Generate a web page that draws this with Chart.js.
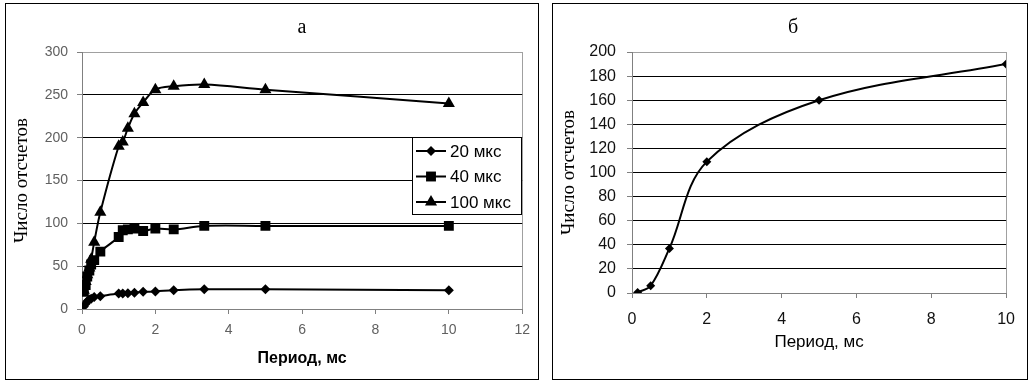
<!DOCTYPE html>
<html>
<head>
<meta charset="utf-8">
<script src="https://cdn.jsdelivr.net/npm/chart.js@4.4.1/dist/chart.umd.min.js"></script>
<style>
  body { margin: 0; background: #fff; width: 1034px; height: 385px; position: relative; overflow: hidden; }
  .panel { position: absolute; border: 1px solid #000; background: #fff; }
  #panel-a { left: 5px; top: 3px; width: 532px; height: 375px; }
  #panel-b { left: 552px; top: 3px; width: 474px; height: 375px; }
  canvas { display: block; }
</style>
</head>
<body>
<div class="panel" id="panel-a"><canvas id="chart-a" width="532" height="375"></canvas></div>
<div class="panel" id="panel-b"><canvas id="chart-b" width="474" height="375"></canvas></div>
<script>
// panel а: three pulse widths
const periodA = [0.05, 0.1, 0.143, 0.2, 0.25, 0.333, 0.5, 1, 1.111, 1.25, 1.429, 1.667, 2, 2.5, 3.333, 5, 10]
const counts20 = [3, 6, 9, 11, 12, 14, 15, 18, 18, 18.5, 19, 20, 20.5, 22, 23, 23, 22]
const counts40 = [20, 28, 38, 45, 52, 57, 67, 84, 92, 93, 94, 91, 94, 93, 97, 97, 97]
const counts100 = [22, 32, 40, 48, 58, 78, 113, 190, 195, 211, 228, 241, 256, 260, 262, 256, 240]
const seriesNames = ['20 мкс', '40 мкс', '100 мкс']

// panel б
const periodB = [0.15, 0.5, 1, 2, 5, 10]
const countsB = [0.5, 6, 37, 109, 160, 190]

const SANS = "'Liberation Sans', Arial, sans-serif"
const SERIF = "'Liberation Serif', 'Times New Roman', serif"

const toPoints = (xs, ys) => xs.map((x, i) => ({ x, y: ys[i] }))

const caption = {
  id: 'caption',
  afterDraw(chart, args, opts) {
    if (!opts.text) return
    const ctx = chart.ctx
    ctx.save()
    ctx.font = '20px ' + SERIF
    ctx.fillStyle = '#000'
    ctx.textAlign = 'center'
    ctx.textBaseline = 'alphabetic'
    ctx.fillText(opts.text, opts.x, opts.y)
    ctx.restore()
  }
}

const legendBox = {
  id: 'legendBox',
  afterDraw(chart, args, opts) {
    if (!opts.display) return
    const ctx = chart.ctx
    ctx.save()
    ctx.fillStyle = '#fff'
    ctx.fillRect(opts.x, opts.y, opts.w, opts.h)
    ctx.strokeStyle = '#000'
    ctx.lineWidth = 1
    ctx.strokeRect(opts.x + 0.5, opts.y + 0.5, opts.w, opts.h)
    chart.data.datasets.forEach((ds, i) => {
      const cy = opts.y + 14 + i * 25.5
      ctx.strokeStyle = '#000'
      ctx.lineWidth = 2
      ctx.beginPath()
      ctx.moveTo(opts.x + 4, cy)
      ctx.lineTo(opts.x + 34, cy)
      ctx.stroke()
      ctx.fillStyle = '#000'
      Chart.helpers.drawPoint(ctx, { pointStyle: ds.pointStyle, radius: ds.pointRadius, rotation: 0, borderWidth: 0 }, opts.x + 19, cy)
      ctx.font = '17px ' + SANS
      ctx.textAlign = 'left'
      ctx.textBaseline = 'middle'
      ctx.fillText(ds.label, opts.x + 38, cy + 1)
    })
    ctx.restore()
  }
}

function lineSet(label, xs, ys, style, radius) {
  return {
    label,
    data: toPoints(xs, ys),
    showLine: true,
    tension: 0.35,
    borderColor: '#000',
    borderWidth: 2,
    pointStyle: style,
    pointRadius: radius,
    pointBackgroundColor: '#000',
    pointBorderColor: '#000',
    pointBorderWidth: 0
  }
}

function axes(opts) {
  return {
    x: {
      type: 'linear',
      min: 0,
      max: opts.xMax,
      afterFit: s => { s.height = opts.xHeight },
      ticks: { stepSize: 2, color: opts.tickColor, padding: opts.xPad, font: { family: SANS, size: opts.tickSize } },
      grid: {
        color: ctx => ctx.tick && ctx.tick.value === opts.xMax ? '#a0a0a0' : 'rgba(0,0,0,0)',
        tickColor: '#808080',
        tickLength: 5
      },
      border: { color: '#808080' },
      title: {
        display: true,
        text: 'Период, мс',
        color: '#000',
        font: { family: SANS, size: opts.titleSize, weight: opts.titleWeight },
        padding: { top: 0, bottom: opts.titleBottom }
      }
    },
    y: {
      min: 0,
      max: opts.yMax,
      afterFit: s => { s.width = opts.yWidth },
      ticks: { stepSize: opts.yStep, color: opts.tickColor, padding: opts.yPad, font: { family: SANS, size: opts.tickSize } },
      grid: {
        color: ctx => {
          const v = ctx.tick ? ctx.tick.value : 0
          if (v === opts.yMax) return '#a0a0a0'
          if (v === 0) return '#808080'
          return '#000'
        },
        tickColor: '#808080',
        tickLength: 5
      },
      border: { color: '#808080' },
      title: {
        display: true,
        text: 'Число отсчетов',
        color: '#000',
        font: { family: SERIF, size: 19 },
        padding: { top: 5, bottom: 0 }
      }
    }
  }
}

new Chart(document.getElementById('chart-a'), {
  type: 'scatter',
  data: {
    datasets: [
      lineSet(seriesNames[0], periodA, counts20, 'rectRot', 5),
      lineSet(seriesNames[1], periodA, counts40, 'rect', 7),
      lineSet(seriesNames[2], periodA, counts100, 'triangle', 7)
    ]
  },
  options: {
    responsive: false,
    animation: false,
    layout: { padding: { top: 48, right: 15, left: 0, bottom: 0 } },
    plugins: {
      legend: { display: false },
      tooltip: { enabled: false },
      caption: { text: 'а', x: 296, y: 29 },
      legendBox: { display: true, x: 406, y: 133, w: 109, h: 77 }
    },
    scales: axes({
      xMax: 12, yMax: 300, yStep: 50, xHeight: 70, yWidth: 76,
      tickColor: '#606060', tickSize: 14, xPad: 8, yPad: 9,
      titleWeight: 'bold', titleSize: 16, titleBottom: 11
    })
  },
  plugins: [caption, legendBox]
})

new Chart(document.getElementById('chart-b'), {
  type: 'scatter',
  data: {
    datasets: [lineSet('б', periodB, countsB, 'rectRot', 4.5)]
  },
  options: {
    responsive: false,
    animation: false,
    layout: { padding: { top: 48, right: 20, left: 0, bottom: 0 } },
    plugins: {
      legend: { display: false },
      tooltip: { enabled: false },
      caption: { text: 'б', x: 240, y: 29 },
      legendBox: { display: false }
    },
    scales: axes({
      xMax: 10, yMax: 200, yStep: 20, xHeight: 86, yWidth: 79,
      tickColor: '#111', tickSize: 16, xPad: 12, yPad: 11,
      titleWeight: 'normal', titleSize: 17, titleBottom: 26
    })
  },
  plugins: [caption, legendBox]
})
</script>
</body>
</html>
